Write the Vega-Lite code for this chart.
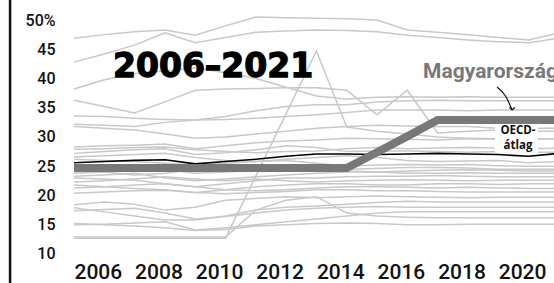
{
"$schema":"https://vega.github.io/schema/vega-lite/v6.json",
"width":554,"height":283,"autosize":"none","padding":0,
"config":{"font":"Roboto","view":{"stroke":null},"axis":{"labelOverlap":false}},
"datasets":{
"countries":[
{"c":"g01","y":2006,"v":46.9},{"c":"g01","y":2007,"v":47.5},{"c":"g01","y":2008,"v":48.0},{"c":"g01","y":2009,"v":48.3},{"c":"g01","y":2010,"v":47.4},{"c":"g01","y":2011,"v":49.0},{"c":"g01","y":2012,"v":50.5},{"c":"g01","y":2013,"v":50.4},{"c":"g01","y":2014,"v":50.3},{"c":"g01","y":2015,"v":50.2},{"c":"g01","y":2016,"v":50.0},{"c":"g01","y":2017,"v":48.3},{"c":"g01","y":2018,"v":47.9},{"c":"g01","y":2019,"v":47.5},{"c":"g01","y":2020,"v":47.0},{"c":"g01","y":2021,"v":46.6},{"c":"g01","y":2022,"v":47.8},
{"c":"g02","y":2006,"v":42.8},{"c":"g02","y":2007,"v":44.2},{"c":"g02","y":2008,"v":45.7},{"c":"g02","y":2009,"v":47.8},{"c":"g02","y":2010,"v":46.1},{"c":"g02","y":2011,"v":47.0},{"c":"g02","y":2012,"v":47.9},{"c":"g02","y":2013,"v":48.1},{"c":"g02","y":2014,"v":48.3},{"c":"g02","y":2015,"v":48.2},{"c":"g02","y":2016,"v":48.0},{"c":"g02","y":2017,"v":47.4},{"c":"g02","y":2018,"v":47.0},{"c":"g02","y":2019,"v":46.6},{"c":"g02","y":2020,"v":46.3},{"c":"g02","y":2021,"v":46.1},{"c":"g02","y":2022,"v":46.9},
{"c":"g03","y":2006,"v":38.2},{"c":"g03","y":2007,"v":39.8},{"c":"g03","y":2008,"v":40.8},{"c":"g03","y":2009,"v":41.3},{"c":"g03","y":2010,"v":41.8},{"c":"g03","y":2011,"v":41.0},{"c":"g03","y":2012,"v":40.0},{"c":"g03","y":2013,"v":38.5},{"c":"g03","y":2014,"v":37.0},{"c":"g03","y":2015,"v":36.5},{"c":"g03","y":2016,"v":36.8},{"c":"g03","y":2017,"v":36.9},{"c":"g03","y":2018,"v":36.8},{"c":"g03","y":2019,"v":36.9},{"c":"g03","y":2020,"v":36.8},{"c":"g03","y":2021,"v":36.8},{"c":"g03","y":2022,"v":36.8},
{"c":"g04","y":2006,"v":36.3},{"c":"g04","y":2007,"v":35.2},{"c":"g04","y":2008,"v":34.1},{"c":"g04","y":2009,"v":36.0},{"c":"g04","y":2010,"v":38.0},{"c":"g04","y":2011,"v":38.2},{"c":"g04","y":2012,"v":38.3},{"c":"g04","y":2013,"v":38.4},{"c":"g04","y":2014,"v":38.4},{"c":"g04","y":2015,"v":38.0},{"c":"g04","y":2016,"v":33.8},{"c":"g04","y":2017,"v":38.0},{"c":"g04","y":2018,"v":30.7},{"c":"g04","y":2019,"v":31.0},{"c":"g04","y":2020,"v":31.2},{"c":"g04","y":2021,"v":31.0},{"c":"g04","y":2022,"v":31.0},
{"c":"g05","y":2006,"v":33.6},{"c":"g05","y":2007,"v":33.5},{"c":"g05","y":2008,"v":33.2},{"c":"g05","y":2009,"v":33.0},{"c":"g05","y":2010,"v":32.9},{"c":"g05","y":2011,"v":33.5},{"c":"g05","y":2012,"v":34.5},{"c":"g05","y":2013,"v":35.2},{"c":"g05","y":2014,"v":35.5},{"c":"g05","y":2015,"v":35.5},{"c":"g05","y":2016,"v":36.0},{"c":"g05","y":2017,"v":36.2},{"c":"g05","y":2018,"v":36.3},{"c":"g05","y":2019,"v":36.2},{"c":"g05","y":2020,"v":36.2},{"c":"g05","y":2021,"v":36.2},{"c":"g05","y":2022,"v":36.2},
{"c":"g06","y":2006,"v":32.2},{"c":"g06","y":2007,"v":32.0},{"c":"g06","y":2008,"v":31.8},{"c":"g06","y":2009,"v":32.5},{"c":"g06","y":2010,"v":32.9},{"c":"g06","y":2011,"v":33.0},{"c":"g06","y":2012,"v":33.2},{"c":"g06","y":2013,"v":33.5},{"c":"g06","y":2014,"v":33.8},{"c":"g06","y":2015,"v":34.2},{"c":"g06","y":2016,"v":34.6},{"c":"g06","y":2017,"v":34.6},{"c":"g06","y":2018,"v":34.6},{"c":"g06","y":2019,"v":34.5},{"c":"g06","y":2020,"v":34.6},{"c":"g06","y":2021,"v":34.6},{"c":"g06","y":2022,"v":34.6},
{"c":"g07","y":2006,"v":31.8},{"c":"g07","y":2007,"v":31.5},{"c":"g07","y":2008,"v":31.2},{"c":"g07","y":2009,"v":30.5},{"c":"g07","y":2010,"v":29.8},{"c":"g07","y":2011,"v":30.0},{"c":"g07","y":2012,"v":30.5},{"c":"g07","y":2013,"v":31.0},{"c":"g07","y":2014,"v":31.5},{"c":"g07","y":2015,"v":31.8},{"c":"g07","y":2016,"v":32.0},{"c":"g07","y":2017,"v":31.9},{"c":"g07","y":2018,"v":31.8},{"c":"g07","y":2019,"v":31.8},{"c":"g07","y":2020,"v":31.5},{"c":"g07","y":2021,"v":31.5},{"c":"g07","y":2022,"v":31.5},
{"c":"g08","y":2006,"v":12.7},{"c":"g08","y":2007,"v":12.7},{"c":"g08","y":2008,"v":12.7},{"c":"g08","y":2009,"v":12.7},{"c":"g08","y":2010,"v":12.7},{"c":"g08","y":2011,"v":12.7},{"c":"g08","y":2012,"v":23.3},{"c":"g08","y":2013,"v":34.0},{"c":"g08","y":2014,"v":44.7},{"c":"g08","y":2015,"v":31.7},{"c":"g08","y":2016,"v":31.0},{"c":"g08","y":2017,"v":30.5},{"c":"g08","y":2018,"v":30.0},{"c":"g08","y":2019,"v":29.8},{"c":"g08","y":2020,"v":29.7},{"c":"g08","y":2021,"v":29.6},{"c":"g08","y":2022,"v":29.7},
{"c":"g09","y":2006,"v":28.3},{"c":"g09","y":2007,"v":28.5},{"c":"g09","y":2008,"v":28.6},{"c":"g09","y":2009,"v":28.8},{"c":"g09","y":2010,"v":28.0},{"c":"g09","y":2011,"v":28.5},{"c":"g09","y":2012,"v":29.0},{"c":"g09","y":2013,"v":29.3},{"c":"g09","y":2014,"v":29.5},{"c":"g09","y":2015,"v":29.8},{"c":"g09","y":2016,"v":29.7},{"c":"g09","y":2017,"v":29.6},{"c":"g09","y":2018,"v":29.5},{"c":"g09","y":2019,"v":29.7},{"c":"g09","y":2020,"v":29.6},{"c":"g09","y":2021,"v":29.7},{"c":"g09","y":2022,"v":29.7},
{"c":"g10","y":2006,"v":27.9},{"c":"g10","y":2007,"v":28.0},{"c":"g10","y":2008,"v":28.2},{"c":"g10","y":2009,"v":28.3},{"c":"g10","y":2010,"v":27.8},{"c":"g10","y":2011,"v":27.5},{"c":"g10","y":2012,"v":27.3},{"c":"g10","y":2013,"v":27.5},{"c":"g10","y":2014,"v":27.6},{"c":"g10","y":2015,"v":28.0},{"c":"g10","y":2016,"v":28.2},{"c":"g10","y":2017,"v":28.0},{"c":"g10","y":2018,"v":28.1},{"c":"g10","y":2019,"v":28.2},{"c":"g10","y":2020,"v":28.1},{"c":"g10","y":2021,"v":28.0},{"c":"g10","y":2022,"v":28.1},
{"c":"g11","y":2006,"v":26.6},{"c":"g11","y":2007,"v":26.8},{"c":"g11","y":2008,"v":27.0},{"c":"g11","y":2009,"v":27.2},{"c":"g11","y":2010,"v":26.5},{"c":"g11","y":2011,"v":26.0},{"c":"g11","y":2012,"v":25.8},{"c":"g11","y":2013,"v":26.2},{"c":"g11","y":2014,"v":26.5},{"c":"g11","y":2015,"v":26.8},{"c":"g11","y":2016,"v":26.5},{"c":"g11","y":2017,"v":26.0},{"c":"g11","y":2018,"v":25.8},{"c":"g11","y":2019,"v":25.9},{"c":"g11","y":2020,"v":26.0},{"c":"g11","y":2021,"v":25.6},{"c":"g11","y":2022,"v":25.8},
{"c":"g12","y":2006,"v":26.2},{"c":"g12","y":2007,"v":26.0},{"c":"g12","y":2008,"v":25.8},{"c":"g12","y":2009,"v":25.5},{"c":"g12","y":2010,"v":25.2},{"c":"g12","y":2011,"v":25.5},{"c":"g12","y":2012,"v":25.8},{"c":"g12","y":2013,"v":26.0},{"c":"g12","y":2014,"v":25.5},{"c":"g12","y":2015,"v":25.0},{"c":"g12","y":2016,"v":25.2},{"c":"g12","y":2017,"v":25.3},{"c":"g12","y":2018,"v":25.2},{"c":"g12","y":2019,"v":25.3},{"c":"g12","y":2020,"v":25.1},{"c":"g12","y":2021,"v":25.0},{"c":"g12","y":2022,"v":25.0},
{"c":"g13","y":2006,"v":23.8},{"c":"g13","y":2007,"v":24.0},{"c":"g13","y":2008,"v":24.3},{"c":"g13","y":2009,"v":24.5},{"c":"g13","y":2010,"v":23.8},{"c":"g13","y":2011,"v":24.0},{"c":"g13","y":2012,"v":24.3},{"c":"g13","y":2013,"v":24.6},{"c":"g13","y":2014,"v":24.8},{"c":"g13","y":2015,"v":24.5},{"c":"g13","y":2016,"v":24.6},{"c":"g13","y":2017,"v":24.8},{"c":"g13","y":2018,"v":24.8},{"c":"g13","y":2019,"v":24.7},{"c":"g13","y":2020,"v":24.5},{"c":"g13","y":2021,"v":24.5},{"c":"g13","y":2022,"v":24.5},
{"c":"g14","y":2006,"v":23.3},{"c":"g14","y":2007,"v":23.5},{"c":"g14","y":2008,"v":23.8},{"c":"g14","y":2009,"v":23.0},{"c":"g14","y":2010,"v":22.5},{"c":"g14","y":2011,"v":22.8},{"c":"g14","y":2012,"v":23.2},{"c":"g14","y":2013,"v":23.5},{"c":"g14","y":2014,"v":23.8},{"c":"g14","y":2015,"v":24.0},{"c":"g14","y":2016,"v":24.0},{"c":"g14","y":2017,"v":23.8},{"c":"g14","y":2018,"v":23.8},{"c":"g14","y":2019,"v":23.9},{"c":"g14","y":2020,"v":23.8},{"c":"g14","y":2021,"v":23.8},{"c":"g14","y":2022,"v":23.8},
{"c":"g15","y":2006,"v":23.0},{"c":"g15","y":2007,"v":22.8},{"c":"g15","y":2008,"v":22.6},{"c":"g15","y":2009,"v":22.0},{"c":"g15","y":2010,"v":21.5},{"c":"g15","y":2011,"v":22.0},{"c":"g15","y":2012,"v":22.5},{"c":"g15","y":2013,"v":23.0},{"c":"g15","y":2014,"v":23.0},{"c":"g15","y":2015,"v":23.2},{"c":"g15","y":2016,"v":23.3},{"c":"g15","y":2017,"v":23.3},{"c":"g15","y":2018,"v":23.4},{"c":"g15","y":2019,"v":23.3},{"c":"g15","y":2020,"v":23.2},{"c":"g15","y":2021,"v":23.2},{"c":"g15","y":2022,"v":23.2},
{"c":"g16","y":2006,"v":22.3},{"c":"g16","y":2007,"v":22.5},{"c":"g16","y":2008,"v":22.8},{"c":"g16","y":2009,"v":23.2},{"c":"g16","y":2010,"v":22.8},{"c":"g16","y":2011,"v":22.5},{"c":"g16","y":2012,"v":22.8},{"c":"g16","y":2013,"v":22.5},{"c":"g16","y":2014,"v":22.3},{"c":"g16","y":2015,"v":22.5},{"c":"g16","y":2016,"v":22.6},{"c":"g16","y":2017,"v":22.7},{"c":"g16","y":2018,"v":22.6},{"c":"g16","y":2019,"v":22.5},{"c":"g16","y":2020,"v":22.6},{"c":"g16","y":2021,"v":22.6},{"c":"g16","y":2022,"v":22.6},
{"c":"g17","y":2006,"v":21.8},{"c":"g17","y":2007,"v":21.5},{"c":"g17","y":2008,"v":21.2},{"c":"g17","y":2009,"v":21.0},{"c":"g17","y":2010,"v":20.5},{"c":"g17","y":2011,"v":21.0},{"c":"g17","y":2012,"v":21.5},{"c":"g17","y":2013,"v":21.8},{"c":"g17","y":2014,"v":22.0},{"c":"g17","y":2015,"v":22.0},{"c":"g17","y":2016,"v":21.8},{"c":"g17","y":2017,"v":21.8},{"c":"g17","y":2018,"v":22.0},{"c":"g17","y":2019,"v":22.0},{"c":"g17","y":2020,"v":21.9},{"c":"g17","y":2021,"v":22.0},{"c":"g17","y":2022,"v":22.0},
{"c":"g18","y":2006,"v":21.3},{"c":"g18","y":2007,"v":21.5},{"c":"g18","y":2008,"v":21.8},{"c":"g18","y":2009,"v":22.0},{"c":"g18","y":2010,"v":21.5},{"c":"g18","y":2011,"v":21.0},{"c":"g18","y":2012,"v":20.8},{"c":"g18","y":2013,"v":21.0},{"c":"g18","y":2014,"v":21.3},{"c":"g18","y":2015,"v":21.5},{"c":"g18","y":2016,"v":21.5},{"c":"g18","y":2017,"v":21.4},{"c":"g18","y":2018,"v":21.3},{"c":"g18","y":2019,"v":21.4},{"c":"g18","y":2020,"v":21.3},{"c":"g18","y":2021,"v":21.2},{"c":"g18","y":2022,"v":21.2},
{"c":"g19","y":2006,"v":20.4},{"c":"g19","y":2007,"v":20.6},{"c":"g19","y":2008,"v":20.8},{"c":"g19","y":2009,"v":20.9},{"c":"g19","y":2010,"v":20.5},{"c":"g19","y":2011,"v":20.3},{"c":"g19","y":2012,"v":20.5},{"c":"g19","y":2013,"v":20.7},{"c":"g19","y":2014,"v":21.0},{"c":"g19","y":2015,"v":21.0},{"c":"g19","y":2016,"v":20.8},{"c":"g19","y":2017,"v":20.8},{"c":"g19","y":2018,"v":20.7},{"c":"g19","y":2019,"v":20.6},{"c":"g19","y":2020,"v":20.6},{"c":"g19","y":2021,"v":20.6},{"c":"g19","y":2022,"v":20.6},
{"c":"g20","y":2006,"v":18.4},{"c":"g20","y":2007,"v":18.9},{"c":"g20","y":2008,"v":18.5},{"c":"g20","y":2009,"v":17.5},{"c":"g20","y":2010,"v":18.0},{"c":"g20","y":2011,"v":19.2},{"c":"g20","y":2012,"v":19.5},{"c":"g20","y":2013,"v":19.8},{"c":"g20","y":2014,"v":19.6},{"c":"g20","y":2015,"v":19.8},{"c":"g20","y":2016,"v":19.9},{"c":"g20","y":2017,"v":19.8},{"c":"g20","y":2018,"v":19.7},{"c":"g20","y":2019,"v":19.6},{"c":"g20","y":2020,"v":19.7},{"c":"g20","y":2021,"v":19.7},{"c":"g20","y":2022,"v":19.7},
{"c":"g21","y":2006,"v":17.9},{"c":"g21","y":2007,"v":17.2},{"c":"g21","y":2008,"v":16.5},{"c":"g21","y":2009,"v":15.8},{"c":"g21","y":2010,"v":15.8},{"c":"g21","y":2011,"v":16.5},{"c":"g21","y":2012,"v":17.5},{"c":"g21","y":2013,"v":18.0},{"c":"g21","y":2014,"v":18.2},{"c":"g21","y":2015,"v":18.5},{"c":"g21","y":2016,"v":18.8},{"c":"g21","y":2017,"v":19.0},{"c":"g21","y":2018,"v":18.9},{"c":"g21","y":2019,"v":18.9},{"c":"g21","y":2020,"v":18.9},{"c":"g21","y":2021,"v":18.9},{"c":"g21","y":2022,"v":18.9},
{"c":"g22","y":2006,"v":17.4},{"c":"g22","y":2007,"v":17.6},{"c":"g22","y":2008,"v":17.8},{"c":"g22","y":2009,"v":17.0},{"c":"g22","y":2010,"v":16.0},{"c":"g22","y":2011,"v":16.4},{"c":"g22","y":2012,"v":17.0},{"c":"g22","y":2013,"v":17.5},{"c":"g22","y":2014,"v":17.8},{"c":"g22","y":2015,"v":18.0},{"c":"g22","y":2016,"v":18.1},{"c":"g22","y":2017,"v":18.0},{"c":"g22","y":2018,"v":18.0},{"c":"g22","y":2019,"v":18.0},{"c":"g22","y":2020,"v":18.0},{"c":"g22","y":2021,"v":18.0},{"c":"g22","y":2022,"v":18.0},
{"c":"g23","y":2006,"v":15.0},{"c":"g23","y":2007,"v":15.1},{"c":"g23","y":2008,"v":15.3},{"c":"g23","y":2009,"v":15.5},{"c":"g23","y":2010,"v":14.1},{"c":"g23","y":2011,"v":14.5},{"c":"g23","y":2012,"v":15.0},{"c":"g23","y":2013,"v":15.5},{"c":"g23","y":2014,"v":16.0},{"c":"g23","y":2015,"v":16.5},{"c":"g23","y":2016,"v":17.0},{"c":"g23","y":2017,"v":17.2},{"c":"g23","y":2018,"v":17.2},{"c":"g23","y":2019,"v":17.2},{"c":"g23","y":2020,"v":17.2},{"c":"g23","y":2021,"v":17.2},{"c":"g23","y":2022,"v":17.2},
{"c":"g24","y":2006,"v":12.9},{"c":"g24","y":2007,"v":12.9},{"c":"g24","y":2008,"v":12.9},{"c":"g24","y":2009,"v":12.9},{"c":"g24","y":2010,"v":12.9},{"c":"g24","y":2011,"v":12.9},{"c":"g24","y":2012,"v":17.5},{"c":"g24","y":2013,"v":19.2},{"c":"g24","y":2014,"v":19.8},{"c":"g24","y":2015,"v":17.0},{"c":"g24","y":2016,"v":16.5},{"c":"g24","y":2017,"v":16.3},{"c":"g24","y":2018,"v":16.2},{"c":"g24","y":2019,"v":16.2},{"c":"g24","y":2020,"v":16.2},{"c":"g24","y":2021,"v":16.2},{"c":"g24","y":2022,"v":16.2},
{"c":"g25","y":2006,"v":15.2},{"c":"g25","y":2007,"v":15.0},{"c":"g25","y":2008,"v":14.8},{"c":"g25","y":2009,"v":14.5},{"c":"g25","y":2010,"v":14.0},{"c":"g25","y":2011,"v":14.2},{"c":"g25","y":2012,"v":14.8},{"c":"g25","y":2013,"v":15.0},{"c":"g25","y":2014,"v":15.2},{"c":"g25","y":2015,"v":15.3},{"c":"g25","y":2016,"v":15.2},{"c":"g25","y":2017,"v":15.0},{"c":"g25","y":2018,"v":15.0},{"c":"g25","y":2019,"v":15.1},{"c":"g25","y":2020,"v":15.1},{"c":"g25","y":2021,"v":15.1},{"c":"g25","y":2022,"v":15.1},
{"c":"g26","y":2006,"v":24.2},{"c":"g26","y":2007,"v":24.0},{"c":"g26","y":2008,"v":23.5},{"c":"g26","y":2009,"v":23.8},{"c":"g26","y":2010,"v":24.5},{"c":"g26","y":2011,"v":25.0},{"c":"g26","y":2012,"v":25.2},{"c":"g26","y":2013,"v":25.0},{"c":"g26","y":2014,"v":24.6},{"c":"g26","y":2015,"v":24.2},{"c":"g26","y":2016,"v":24.0},{"c":"g26","y":2017,"v":24.2},{"c":"g26","y":2018,"v":24.3},{"c":"g26","y":2019,"v":24.4},{"c":"g26","y":2020,"v":24.3},{"c":"g26","y":2021,"v":24.2},{"c":"g26","y":2022,"v":24.2},
{"c":"g27","y":2006,"v":27.2},{"c":"g27","y":2007,"v":27.5},{"c":"g27","y":2008,"v":27.8},{"c":"g27","y":2009,"v":28.0},{"c":"g27","y":2010,"v":27.0},{"c":"g27","y":2011,"v":27.3},{"c":"g27","y":2012,"v":27.8},{"c":"g27","y":2013,"v":28.5},{"c":"g27","y":2014,"v":28.2},{"c":"g27","y":2015,"v":27.5},{"c":"g27","y":2016,"v":27.6},{"c":"g27","y":2017,"v":27.6},{"c":"g27","y":2018,"v":27.5},{"c":"g27","y":2019,"v":27.4},{"c":"g27","y":2020,"v":27.5},{"c":"g27","y":2021,"v":27.4},{"c":"g27","y":2022,"v":27.4}
],
"oecd":[
{"y":2006,"v":25.6},{"y":2007,"v":25.8},{"y":2008,"v":26.0},{"y":2009,"v":26.1},{"y":2010,"v":25.4},{"y":2011,"v":25.8},{"y":2012,"v":26.2},{"y":2013,"v":26.7},{"y":2014,"v":27.1},{"y":2015,"v":27.1},{"y":2016,"v":27.0},{"y":2017,"v":27.1},{"y":2018,"v":27.2},{"y":2019,"v":27.1},{"y":2020,"v":27.0},{"y":2021,"v":26.7},{"y":2022,"v":27.2}
],
"hu":[
{"y":2006,"v":24.7},{"y":2007,"v":24.7},{"y":2008,"v":24.7},{"y":2009,"v":24.7},{"y":2010,"v":24.7},{"y":2011,"v":24.7},{"y":2012,"v":24.7},{"y":2013,"v":24.7},{"y":2014,"v":24.7},{"y":2015,"v":24.7},{"y":2016,"v":27.4},{"y":2017,"v":30.1},{"y":2018,"v":32.9},{"y":2019,"v":32.9},{"y":2020,"v":32.9},{"y":2021,"v":32.9},{"y":2022,"v":32.9}
],
"arrow":[
{"y":2019.96,"v":38.55},{"y":2020.24,"v":37.0},{"y":2020.46,"v":34.62}
],
"one":[{}]
},
"layer":[
{"data":{"name":"countries"},
 "mark":{"type":"line","color":"#c8c8c8","strokeWidth":1.5},
 "encoding":{
  "x":{"field":"y","type":"quantitative","title":null,"scale":{"domain":[2003.558,2021.84],"nice":false,"zero":false},
   "axis":{"values":[2006,2008,2010,2012,2014,2016,2018,2020],"tickCount":30,"format":"d","labelAlign":"left","labelDx":3,"offset":-22,"labelPadding":0,"ticks":false,"tickSize":0,"domain":false,"grid":false,"labelFontSize":21,"labelFontWeight":500,"labelColor":"#111","labelFont":"Roboto","title":null,"labelFlush":false,"labelOverlap":false}},
  "y":{"field":"v","type":"quantitative","title":null,"scale":{"domain":[5.04,53.42],"nice":false,"zero":false},
   "axis":{"values":[10,15,20,25,30,35,40,45,50],"tickCount":30,"labelExpr":"datum.value == 50 ? '50%' : datum.label","offset":-57,"labelPadding":2,"ticks":false,"tickSize":0,"domain":false,"grid":false,"labelFontSize":16,"labelFontWeight":500,"labelColor":"#111","labelFont":"Roboto","title":null,"labelBaseline":"middle","labelFlush":false,"labelOverlap":false}},
  "detail":{"field":"c"}
 }},
{"data":{"name":"oecd"},
 "mark":{"type":"line","color":"#000000","strokeWidth":1.6},
 "encoding":{
  "x":{"field":"y","type":"quantitative","title":null,
   "axis":{"values":[2006,2008,2010,2012,2014,2016,2018,2020],"tickCount":30,"format":"d","labelAlign":"left","labelDx":3,"offset":-22,"labelPadding":0,"ticks":false,"tickSize":0,"domain":false,"grid":false,"labelFontSize":21,"labelFontWeight":500,"labelColor":"#111","labelFont":"Roboto","title":null,"labelFlush":false,"labelOverlap":false}},
  "y":{"field":"v","type":"quantitative","title":null,
   "axis":{"values":[10,15,20,25,30,35,40,45,50],"tickCount":30,"labelExpr":"datum.value == 50 ? '50%' : datum.label","offset":-57,"labelPadding":2,"ticks":false,"tickSize":0,"domain":false,"grid":false,"labelFontSize":16,"labelFontWeight":500,"labelColor":"#111","labelFont":"Roboto","title":null,"labelBaseline":"middle","labelFlush":false,"labelOverlap":false}}}},
{"data":{"name":"one"},
 "mark":{"type":"rect","fill":"#ffffff"},
 "encoding":{"x":{"datum":2019.89},"x2":{"datum":2021.31},"y":{"datum":32.0},"y2":{"datum":27.3}}},
{"data":{"name":"one"},
 "mark":{"type":"text","text":"OECD-\nátlag","lineBreak":"\n","lineHeight":15,"font":"Open Sans","fontWeight":"bold","fontSize":11.5,"align":"center","baseline":"alphabetic","color":"#111"},
 "encoding":{"x":{"datum":2020.65},"y":{"datum":30.5}}},
{"data":{"name":"hu"},
 "mark":{"type":"line","color":"#787878","strokeWidth":8,"strokeJoin":"miter"},
 "encoding":{"x":{"field":"y","type":"quantitative","title":null},"y":{"field":"v","type":"quantitative","title":null}}},
{"data":{"name":"arrow"},
 "mark":{"type":"line","color":"#111","strokeWidth":1.2,"interpolate":"monotone"},
 "encoding":{"x":{"field":"y","type":"quantitative","title":null},"y":{"field":"v","type":"quantitative","title":null}}},
{"data":{"name":"one"},
 "mark":{"type":"point","shape":"M-1,-1L0,0L1,-1","filled":false,"stroke":"#111","strokeWidth":1.2,"size":30,"opacity":1},
 "encoding":{"x":{"datum":2020.46},"y":{"datum":34.62}}},
{"data":{"name":"one"},
 "mark":{"type":"text","text":"Magyarország","font":"Roboto","fontWeight":"bold","fontSize":21,"align":"left","baseline":"alphabetic","color":"#787878"},
 "encoding":{"x":{"datum":2017.52},"y":{"datum":40.09}}},
{"data":{"name":"one"},
 "mark":{"type":"text","text":"2006–2021","font":"DejaVu Sans","fontWeight":"bold","fontSize":33,"align":"center","baseline":"alphabetic","color":"#000000","stroke":"#000000","strokeWidth":1.3},
 "encoding":{"x":{"datum":2010.59},"y":{"datum":40.26}}},
{"data":{"name":"one"},
 "mark":{"type":"rule","color":"#111","strokeWidth":2.5},
 "encoding":{"x":{"datum":2003.89}}}
]
}
